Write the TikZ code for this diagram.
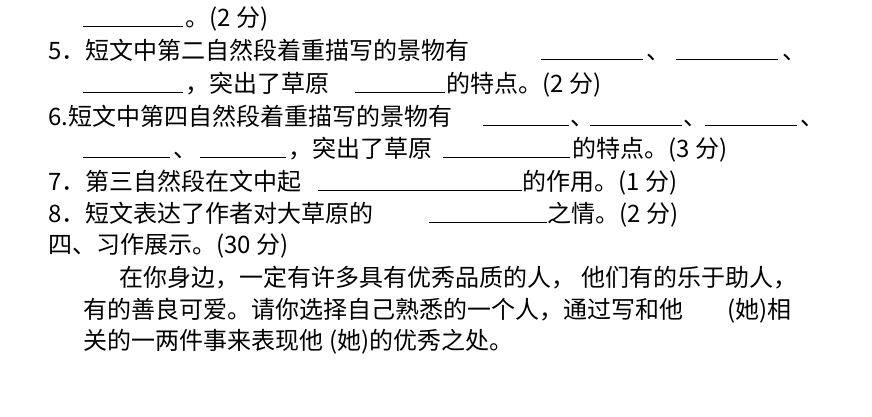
\documentclass[tikz,border=0pt]{standalone}
\usepackage{fontspec}
\setmainfont{Noto Sans CJK SC}
\begin{document}
\begin{tikzpicture}[x=1pt,y=-1pt,t/.style={anchor=base west,inner sep=0pt,font=\fontsize{24}{24}\selectfont},bl/.style={line width=1pt}]
\useasboundingbox (0,0) rectangle (872,416);
% line 1
\draw[bl] (83,26) coordinate (a1) -- (183,26) coordinate (a2);
\node[t] (l1) at (185,26) {。(2 分)};
% line 2
\node[t] (l2) at (48,59) {5．短文中第二自然段着重描写的景物有};
\draw[bl] (541,59) -- (643,59); \node[t] (l2b) at (646,59) {、};
\draw[bl] (676,59) -- (778,59); \node[t] (l2c) at (782,59) {、};
% line 3
\draw[bl] (83,92) -- (183,92); \node[t] (l3) at (185,92) {，突出了草原};
\draw[bl] (355,92) -- (445,92); \node[t] (l3b) at (446,92) {的特点。(2 分)};
% line 4
\node[t] (l4) at (48,125) {6.短文中第四自然段着重描写的景物有};
\draw[bl] (483,125) -- (569,125); \node[t] (l4b) at (570,125) {、};
\draw[bl] (590,125) -- (682,125); \node[t] (l4c) at (683,125) {、};
\draw[bl] (705,125) -- (797,125); \node[t] (l4d) at (800,125) {、};
% line 5
\draw[bl] (83,157) -- (170,157); \node[t] (l5) at (173,157) {、};
\draw[bl] (200,157) -- (286,157); \node[t] (l5b) at (288,157) {，突出了草原};
\draw[bl] (443,157) -- (570,157); \node[t] (l5c) at (572,157) {的特点。(3 分)};
% line 6
\node[t] (l6) at (48,190) {7．第三自然段在文中起};
\draw[bl] (318,190) -- (522,190); \node[t] (l6b) at (522,190) {的作用。(1 分)};
% line 7
\node[t] (l7) at (48,222) {8．短文表达了作者对大草原的};
\draw[bl] (429,222) -- (547,222); \node[t] (l7b) at (547,222) {之情。(2 分)};
% line 8
\node[t] (l8) at (48,253) {四、习作展示。(30 分)};
\node[t] (l9) at (119,286) {在你身边，一定有许多具有优秀品质的人，\hspace{6pt}他们有的乐于助人，};
\node[t] (l10) at (83,318) {有的善良可爱。请你选择自己熟悉的一个人，通过写和他};
\node[t] (l10b) at (727,318) {(她)相};
\node[t] (l11) at (83,349) {关的一两件事来表现他\hspace{6pt}(她)的优秀之处。};
\end{tikzpicture}
\end{document}
